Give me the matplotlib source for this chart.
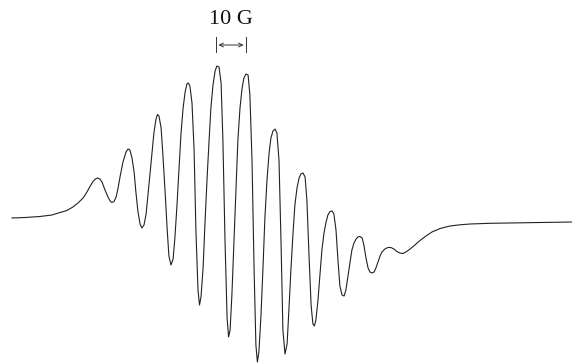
import numpy as np
import matplotlib
matplotlib.use("Agg")
import matplotlib.pyplot as plt

# EPR derivative spectrum (field in G, signal in a.u.)
field = [4.0, 8.3, 13.3, 17.3, 20.0, 22.3, 24.3, 26.0, 27.7, 29.0, 30.0, 31.0, 31.8,
         32.5, 33.3, 34.0, 35.0, 36.0, 36.7, 37.3, 38.0, 38.7, 39.3, 40.0, 41.0, 42.0,
         42.7, 43.3, 44.0, 44.7, 45.3, 46.0, 46.7, 47.3, 48.0, 48.7, 49.3, 50.0, 50.7,
         51.3, 52.0, 52.5, 53.0, 53.7, 54.3, 55.0, 55.7, 56.3, 57.0, 57.7, 58.3, 59.0,
         59.7, 60.3, 61.0, 61.7, 62.3, 62.8, 63.3, 64.0, 64.7, 65.3, 66.0, 66.5, 67.0,
         67.7, 68.3, 69.0, 69.7, 70.3, 71.0, 71.7, 72.3, 73.0, 73.7, 74.3, 75.0, 75.7,
         76.2, 76.7, 77.3, 78.0, 78.7, 79.3, 80.0, 80.7, 81.3, 82.0, 82.7, 83.3, 84.0,
         84.7, 85.3, 85.8, 86.3, 87.0, 87.7, 88.3, 89.0, 89.7, 90.3, 91.0, 91.7, 92.3,
         93.0, 93.7, 94.3, 95.0, 95.7, 96.3, 97.0, 97.7, 98.3, 99.0, 99.7, 100.3, 101.0,
         101.7, 102.3, 103.0, 103.7, 104.3, 104.8, 105.3, 106.0, 106.7, 107.3, 108.0,
         108.7, 109.3, 110.0, 110.7, 111.3, 112.0, 112.7, 113.3, 114.0, 114.7, 115.3,
         116.0, 116.7, 117.3, 118.0, 118.7, 119.3, 120.0, 120.7, 121.3, 122.0, 122.7,
         123.3, 124.0, 124.7, 125.3, 126.0, 126.7, 127.3, 128.3, 129.3, 130.3, 131.3,
         132.3, 133.3, 134.3, 135.3, 136.7, 138.3, 140.0, 142.0, 144.0, 146.7, 150.0,
         153.3, 156.7, 163.3, 170.0, 176.7, 183.3, 190.7]
signal = [2, 2.5, 3.5, 5, 7.5, 9.5, 13, 17, 22, 28, 33.5, 38.5, 41,
          42, 41, 38, 30, 23, 19, 17.5, 18.5, 23, 31, 43, 58, 68,
          71, 70, 62, 48, 28, 8, -4, -8, -5, 6, 24, 46, 68,
          87, 101, 105.5, 104, 92, 65, 30, -8, -36, -45, -39, -18, 15,
          52, 85, 111, 128, 136, 137, 134, 117, 70, -10, -70, -85, -77,
          -48, -5, 40, 80, 112, 135, 149, 154, 153, 137, 80, -20, -98,
          -117, -110, -75, -20, 35, 80, 112, 132, 142, 146, 145, 125, 60,
          -50, -125, -142, -132, -95, -45, 2, 40, 67, 82, 89, 91, 87,
          60, -25, -110, -134, -124, -90, -48, -12, 15, 32, 42, 46, 47,
          43, 20, -35, -85, -104, -106, -100, -80, -53, -30, -13,
          -2, 5, 8.5, 9, 6, -10, -42, -66, -75, -76, -70,
          -56, -42, -30, -23, -19, -17, -16.5, -18, -25, -38, -48,
          -52, -53, -52, -48, -42, -36, -32, -29, -27.5, -27.5, -29,
          -31.5, -33, -33.5, -32, -29, -25, -20.5, -16, -12, -8.5, -6,
          -4.8, -4, -3.3, -3, -2.6, -2.3, -2]

bar_start = 72.0   # G
bar_len = 10       # G

fig = plt.figure(figsize=(5.72, 3.64), dpi=100)
ax = fig.add_axes([0, 0, 1, 1])
ax.plot(field, signal, color="#222222", lw=0.8)

# 10 G scale bar
bar_y = 175
ax.plot([bar_start, bar_start], [168, 183], color="#333333", lw=0.7)
ax.plot([bar_start + bar_len, bar_start + bar_len], [168, 183], color="#333333", lw=0.7)
ax.annotate("", xy=(bar_start + bar_len - 0.8, bar_y), xytext=(bar_start + 0.8, bar_y),
            arrowprops=dict(arrowstyle="<->", lw=0.7, color="#333333", mutation_scale=7,
                            shrinkA=0, shrinkB=0))
ax.text(bar_start + bar_len / 2, 200, "10 G", ha="center", va="center",
        family="Liberation Serif", fontsize=16, color="#111111")

ax.set_xlim(0, 190.67)
ax.set_ylim(-144, 220)
ax.axis("off")
fig.savefig("out.png", dpi=100)
